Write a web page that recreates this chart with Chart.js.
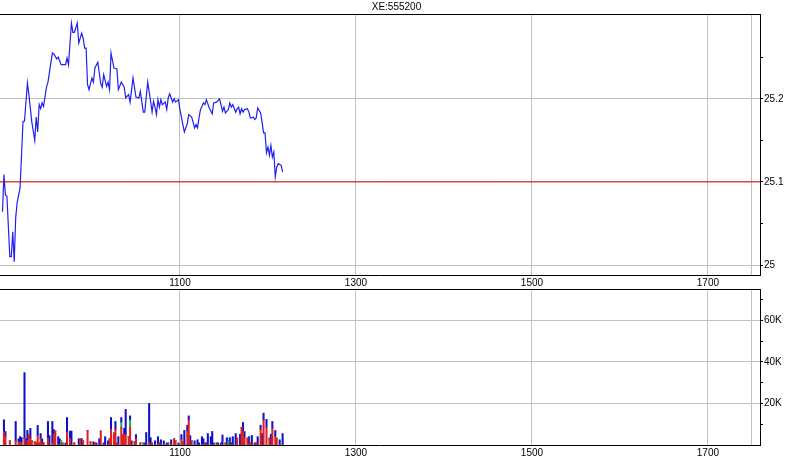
<!DOCTYPE html>
<html>
<head>
<meta charset="utf-8">
<script src="https://cdn.jsdelivr.net/npm/chart.js@4.4.1/dist/chart.umd.min.js"></script>
<style>
  html, body { margin: 0; padding: 0; background: #fff; }
  #wrap { position: relative; width: 793px; height: 465px; }
  .panel { position: absolute; left: 0; width: 793px; }
</style>
</head>
<body>
<div id="wrap">
  <div class="panel" style="top:0;height:288px"><canvas id="priceChart"></canvas></div>
  <div class="panel" style="top:288px;height:177px"><canvas id="volChart"></canvas></div>
</div>
<script>
const symbol = "XE:555200";
const prevClose = 25.1;

// times are minutes since midnight (540 = 09:00)
const priceTimes = [
  539, 540, 541, 542, 544, 545, 546, 547, 548, 549,
  551, 553, 554, 556, 557, 559, 561, 562, 563, 564,
  565, 566, 567, 569, 570, 573, 574, 576, 577, 579,
  582, 583, 584, 586, 587, 588, 590, 591, 593, 594,
  595, 596, 597, 598, 600, 601, 602, 604, 606, 607,
  608, 610, 611, 612, 613, 615, 617, 618, 620, 622,
  623, 625, 626, 628, 630, 632, 633, 635, 636, 638,
  640, 641, 642, 643, 644, 645, 646, 647, 648, 650,
  651, 652, 653, 655, 656, 657, 659, 660, 662, 663,
  665, 666, 668, 670, 671, 672, 673, 674, 676, 677,
  678, 680, 682, 683, 685, 687, 688, 689, 690, 691,
  693, 694, 695, 696, 698, 699, 700, 701, 702, 703,
  704, 706, 707, 708, 709, 710, 711, 712, 713, 715,
  716, 717, 718, 719, 720, 721, 722, 723, 724, 725,
  726, 727, 729, 730
];
const priceValues = [
  25.064, 25.109, 25.084, 25.083, 25.010, 25.010, 25.040, 25.004, 25.057, 25.075,
  25.093, 25.173, 25.173, 25.219, 25.205, 25.172, 25.150, 25.178, 25.160, 25.193,
  25.188, 25.195, 25.191, 25.214, 25.220, 25.255, 25.254, 25.248, 25.250, 25.241,
  25.241, 25.249, 25.241, 25.291, 25.280, 25.280, 25.291, 25.267, 25.279, 25.273,
  25.261, 25.261, 25.217, 25.211, 25.225, 25.220, 25.237, 25.244, 25.218, 25.214,
  25.229, 25.215, 25.220, 25.211, 25.255, 25.237, 25.236, 25.211, 25.220, 25.214,
  25.201, 25.205, 25.196, 25.225, 25.202, 25.201, 25.209, 25.184, 25.184, 25.220,
  25.197, 25.184, 25.197, 25.190, 25.181, 25.199, 25.190, 25.199, 25.193, 25.196,
  25.187, 25.201, 25.206, 25.196, 25.200, 25.196, 25.199, 25.187, 25.169, 25.160,
  25.170, 25.181, 25.178, 25.165, 25.169, 25.165, 25.177, 25.187, 25.195, 25.193,
  25.199, 25.189, 25.182, 25.195, 25.196, 25.200, 25.193, 25.185, 25.190, 25.183,
  25.187, 25.195, 25.190, 25.193, 25.184, 25.188, 25.190, 25.182, 25.188, 25.184,
  25.187, 25.188, 25.184, 25.177, 25.177, 25.178, 25.175, 25.177, 25.189, 25.183,
  25.172, 25.159, 25.159, 25.135, 25.142, 25.132, 25.144, 25.130, 25.136, 25.106,
  25.118, 25.122, 25.120, 25.112
];

// volume per minute, in thousands, split by colour
const volTimes = [
  540, 541, 544, 548, 550, 551, 552, 554, 555, 556,
  557, 558, 559, 561, 562, 563, 564, 565, 566, 567,
  570, 571, 573, 574, 575, 577, 578, 579, 580, 582,
  583, 585, 586, 588, 591, 592, 593, 594, 597, 599,
  601, 602, 603, 605, 606, 608, 609, 611, 612, 613,
  615, 616, 617, 618, 620, 621, 622, 623, 625, 626,
  627, 629, 630, 633, 635, 636, 637, 639, 640, 641,
  643, 645, 646, 647, 649, 651, 652, 654, 656, 657,
  659, 661, 662, 663, 665, 666, 667, 668, 670, 672,
  673, 675, 676, 677, 678, 679, 681, 682, 683, 685,
  686, 688, 689, 691, 692, 693, 694, 695, 696, 698,
  699, 701, 702, 703, 704, 706, 707, 708, 709, 711,
  712, 713, 715, 716, 717, 719, 721, 722, 723, 725,
  726, 728, 730
];
const volRed = [
  6.2, 4, 2, 2, 1.5, 1, 1, 3, 0, 2,
  5, 3, 2, 1.5, 1.3, 4.5, 1, 3, 0, 1,
  3, 0, 1, 5, 6.7, 0, 0, 0, 1, 0,
  6, 3, 0, 1, 0, 3, 0, 2, 7, 1.5,
  0, 1, 0, 0, 6.7, 0, 0, 0, 3, 7.5,
  5.8, 7.5, 1, 0, 8.5, 5, 5, 5, 4, 8.5,
  0, 1.5, 3, 1, 0, 0, 0, 1, 0, 1,
  0, 0, 1, 0, 0, 0, 1, 0, 3, 2,
  0, 2.5, 1.5, 0, 6.5, 12, 0, 2, 0, 0,
  0, 0, 0, 1, 0, 0, 0, 0, 0, 1,
  0, 0, 0, 1, 0, 0, 0, 0, 0, 0,
  3.3, 0, 8.5, 6.5, 3.5, 3.3, 0, 1, 0, 0,
  1, 0, 7.5, 0, 12, 8.5, 3.3, 0, 8, 4,
  3.3, 0, 0
];
const volGreen = [
  0, 0, 0, 0, 0, 0, 0, 0, 0, 0,
  0, 0, 0, 0, 0, 0, 0, 0, 0, 0,
  0, 0, 0, 0, 0, 0, 0, 2, 0, 0,
  0, 0, 0, 0, 0, 0, 0, 0, 0, 0,
  0, 0, 0, 0, 0, 0, 0, 0, 0, 0,
  0, 0, 0, 0, 2.3, 0, 0, 0, 0, 3.5,
  0, 0, 0, 0, 1, 0, 0, 0, 0, 0,
  0, 0, 0, 0, 0, 0, 0, 0, 0, 0,
  0, 0, 0, 0, 0, 0, 0, 0, 0, 0,
  0, 0, 0, 0, 0, 0, 0, 0, 0, 0,
  0, 0, 0, 0, 0, 2, 0, 0, 0, 0,
  0, 0, 0, 0, 0, 0, 0, 0, 0, 0,
  0, 0, 0, 0, 0, 0, 0, 0, 0, 0,
  0, 0, 0
];
const volBlue = [
  5.9, 2.5, 0, 9.3, 1.5, 3, 2.6, 31.8, 3, 5,
  0, 5, 0, 0, 0, 4.9, 0, 2.5, 3, 0,
  8.3, 4.5, 10.3, 2.4, 0, 4, 3, 0, 0, 1,
  7.2, 3.7, 6.7, 0, 3, 0, 3, 0, 0, 0,
  1.5, 0, 1, 3, 0, 1, 4, 2, 0, 5.7,
  0, 3.8, 0, 4, 2.4, 0, 3, 12.1, 0, 2,
  2, 0, 2, 0, 0, 1, 6, 19, 3.5, 0,
  2, 4, 0, 2.5, 2, 1, 0, 2.5, 0, 0,
  1, 2.5, 0, 7, 3, 2, 4.5, 0, 2, 2.5,
  1, 4, 3, 0, 1, 5.5, 4, 6.5, 1, 0,
  1, 1, 4.8, 0, 3.5, 0, 3.5, 1, 4, 5.5,
  0, 5.2, 0, 4.3, 3, 0, 4, 0, 4.6, 1,
  0, 4, 2, 5.5, 3.3, 3.8, 0, 5.2, 3.3, 3,
  0, 2.5, 5.5
];

// axis ticks
const xTickMinutes = [660, 780, 900, 1020];
const sessionEnd = 1050;
const priceTicks = [25, 25.05, 25.1, 25.15, 25.2, 25.25];
const priceTickLabels = ["25", "", "25.1", "", "25.2", ""];
const volTicks = [10, 20, 30, 40, 50, 60, 70];
const volTickLabels = ["", "20K", "", "40K", "", "60K", ""];

const xMin = 537.3, xMax = 1055.5;
const gridColor = "#c0c0c0";
const font = { family: "'Liberation Sans', Arial, sans-serif", size: 10, weight: "normal" };

function hhmm(v) {
  return String(Math.floor(v / 60) * 100 + (v % 60));
}

function timeAxis(height) {
  return {
    type: "linear",
    min: xMin,
    max: xMax,
    offset: false,
    afterBuildTicks: (s) => {
      s.ticks = xTickMinutes.concat([sessionEnd]).map((v) => ({ value: v }));
    },
    afterFit: (s) => {
      s.height = height;
      s.paddingLeft = 0;
      s.paddingRight = 0;
    },
    grid: { color: gridColor, drawTicks: false, offset: false },
    border: { color: "#000", width: 1 },
    ticks: {
      autoSkip: false,
      maxRotation: 0,
      padding: 2,
      color: "#000",
      font: font,
      callback: (v) => (v === sessionEnd ? "" : hhmm(v)),
    },
  };
}

function valueAxis(min, max, tickValues, tickLabels) {
  return {
    position: "right",
    min: min,
    max: max,
    afterBuildTicks: (s) => {
      s.ticks = tickValues.map((v) => ({ value: v }));
    },
    afterFit: (s) => {
      s.width = 33;
      s.paddingTop = 0;
      s.paddingBottom = 0;
    },
    grid: {
      color: (c) => (tickLabels[c.index] ? gridColor : "rgba(0,0,0,0)"),
      tickColor: "#000",
      tickLength: 3,
    },
    border: { color: "#000", width: 1 },
    ticks: {
      autoSkip: false,
      padding: 1,
      color: "#000",
      font: font,
      callback: (v, i) => tickLabels[i],
    },
  };
}

// black line along the top of each panel
const topFrame = {
  id: "topFrame",
  afterDraw(chart) {
    const { ctx, chartArea } = chart;
    ctx.save();
    ctx.strokeStyle = "#000";
    ctx.lineWidth = 1;
    ctx.beginPath();
    ctx.moveTo(chartArea.left, Math.floor(chartArea.top) + 0.5);
    ctx.lineTo(chartArea.right, Math.floor(chartArea.top) + 0.5);
    ctx.stroke();
    ctx.restore();
  },
};

new Chart(document.getElementById("priceChart"), {
  type: "line",
  data: {
    datasets: [
      {
        label: "prev close",
        data: [{ x: xMin, y: prevClose }, { x: xMax, y: prevClose }],
        borderColor: "#e00000",
        borderWidth: 1,
        pointRadius: 0,
      },
      {
        label: symbol,
        data: priceTimes.map((t, i) => ({ x: t, y: priceValues[i] })),
        borderColor: "#2020f0",
        borderWidth: 1.2,
        pointRadius: 0,
        tension: 0,
      },
    ],
  },
  options: {
    responsive: true,
    maintainAspectRatio: false,
    animation: false,
    devicePixelRatio: 1,
    layout: { padding: 0 },
    scales: {
      x: timeAxis(13),
      y: valueAxis(24.988, 25.302, priceTicks, priceTickLabels),
    },
    plugins: {
      legend: { display: false },
      tooltip: { enabled: false },
      title: {
        display: true,
        text: symbol,
        color: "#000",
        font: font,
        padding: { top: 1, bottom: 1 },
      },
    },
  },
  plugins: [topFrame],
});

new Chart(document.getElementById("volChart"), {
  type: "bar",
  data: {
    datasets: [
      {
        label: "down",
        data: volTimes.map((t, i) => ({ x: t, y: volRed[i] })),
        backgroundColor: "#e02020",
      },
      {
        label: "even",
        data: volTimes.map((t, i) => ({ x: t, y: volGreen[i] })),
        backgroundColor: "#18b050",
      },
      {
        label: "up",
        data: volTimes.map((t, i) => ({ x: t, y: volBlue[i] })),
        backgroundColor: "#1010c8",
      },
    ],
  },
  options: {
    responsive: true,
    maintainAspectRatio: false,
    animation: false,
    devicePixelRatio: 1,
    layout: { padding: { top: 1 } },
    datasets: { bar: { barThickness: 1.4, borderWidth: 0 } },
    scales: {
      x: Object.assign(timeAxis(20), { stacked: true }),
      y: Object.assign(valueAxis(0, 75, volTicks, volTickLabels), { stacked: true }),
    },
    plugins: {
      legend: { display: false },
      tooltip: { enabled: false },
    },
  },
  plugins: [topFrame],
});
</script>
</body>
</html>
